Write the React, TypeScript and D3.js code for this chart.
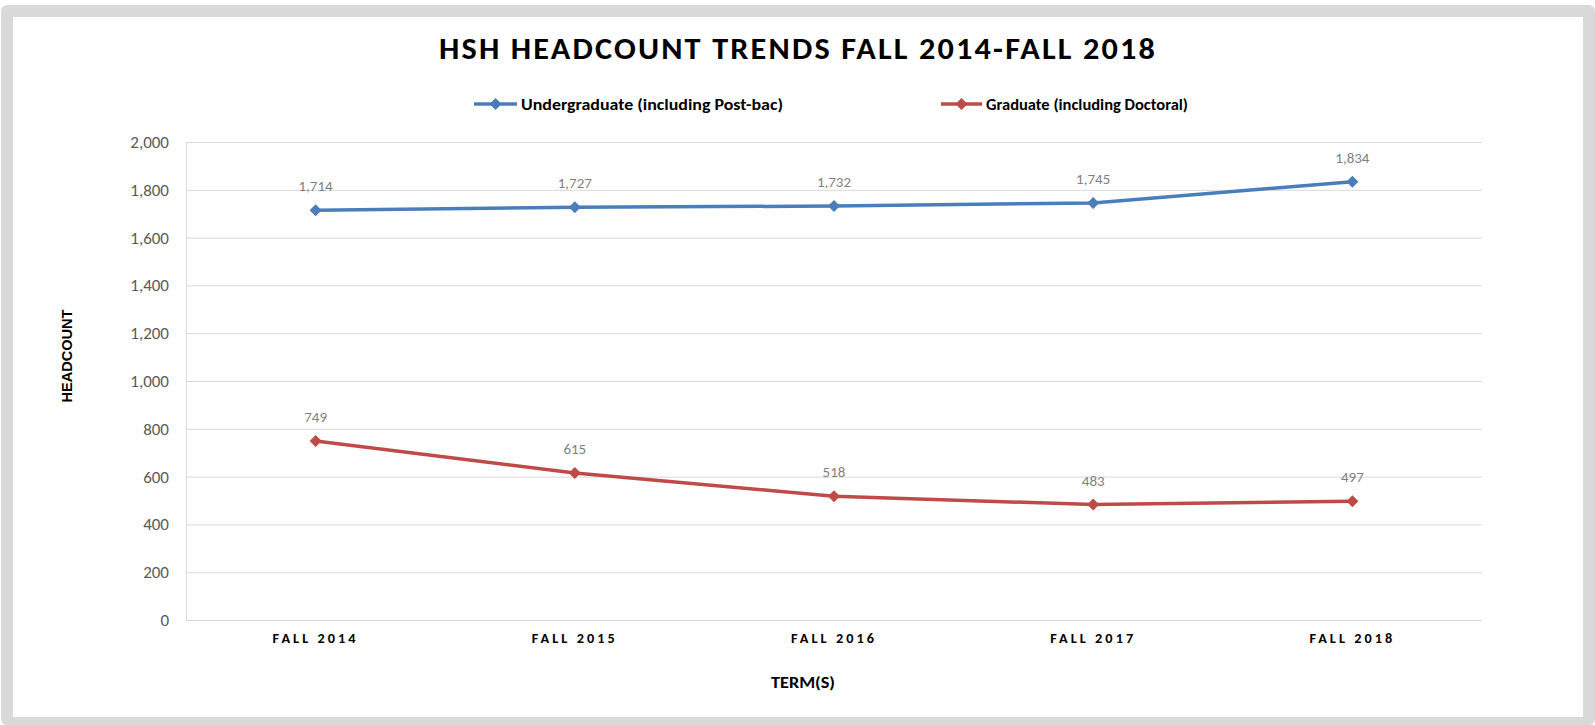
import React, { useEffect, useRef } from "react";
import * as d3 from "d3";

// chart values
const categories = ["FALL 2014", "FALL 2015", "FALL 2016", "FALL 2017", "FALL 2018"];
const undergrad = [1714, 1727, 1732, 1745, 1834];
const graduate = [749, 615, 518, 483, 497];
const yTicks = [0, 200, 400, 600, 800, 1000, 1200, 1400, 1600, 1800, 2000];
const seriesNames = ["Undergraduate (including Post-bac)", "Graduate (including Doctoral)"];

const width = 1595;
const height = 725;
const plot = { left: 186, right: 1482, top: 142, bottom: 620 };
const font = "Carlito, Calibri, Lato, 'Open Sans', sans-serif";
const colors = ["#4a7ebb", "#be4b48"];

const App = () => {
  const ref = useRef<SVGSVGElement>(null);

  useEffect(() => {
    const svg = d3.select(ref.current);
    svg.selectAll("*").remove();

    // frame
    svg.append("rect").attr("x", 1).attr("y", 5).attr("width", 1594).attr("height", 720)
      .attr("rx", 6).attr("fill", "#d9d9d9");
    svg.append("rect").attr("x", 13).attr("y", 17).attr("width", 1570).attr("height", 700)
      .attr("fill", "#ffffff");

    const x = d3.scaleBand().domain(categories).range([plot.left, plot.right]).padding(0);
    const y = d3.scaleLinear().domain([0, 2000]).range([plot.bottom, plot.top]);
    const cx = (c: string) => (x(c) as number) + x.bandwidth() / 2;

    // gridlines
    svg.append("g").selectAll("line").data(yTicks).join("line")
      .attr("x1", plot.left).attr("x2", plot.right)
      .attr("y1", (d) => y(d) + 0.5).attr("y2", (d) => y(d) + 0.5)
      .attr("stroke", "#d9d9d9").attr("stroke-width", 1);
    svg.append("line").attr("x1", plot.left + 0.5).attr("x2", plot.left + 0.5)
      .attr("y1", plot.top).attr("y2", plot.bottom + 0.5)
      .attr("stroke", "#d9d9d9");

    // y axis
    const yAxis = d3.axisLeft(y).tickValues(yTicks).tickSize(0).tickPadding(17)
      .tickFormat((d) => d3.format(",")(d as number));
    const yg = svg.append("g").attr("transform", `translate(${plot.left},0)`).call(yAxis);
    yg.select(".domain").remove();
    yg.selectAll("text").attr("font-family", font).attr("font-size", 17).attr("fill", "#595959");

    // x axis
    const xAxis = d3.axisBottom(x).tickSize(0).tickPadding(13);
    const xg = svg.append("g").attr("transform", `translate(0,${plot.bottom})`).call(xAxis);
    xg.select(".domain").remove();
    xg.selectAll("text").attr("font-family", font).attr("font-size", 14).attr("font-weight", 700)
      .attr("fill", "#000").attr("letter-spacing", 3)
      .attr("textLength", 86).attr("lengthAdjust", "spacingAndGlyphs");

    // title
    svg.append("text").attr("x", 798).attr("y", 59).attr("text-anchor", "middle")
      .attr("font-family", font).attr("font-size", 30).attr("font-weight", 700)
      .attr("letter-spacing", 2).attr("textLength", 718).attr("lengthAdjust", "spacingAndGlyphs")
      .text("HSH HEADCOUNT TRENDS FALL 2014-FALL 2018");

    // axis titles
    svg.append("text").attr("x", 803).attr("y", 688).attr("text-anchor", "middle")
      .attr("font-family", font).attr("font-size", 16).attr("font-weight", 700)
      .attr("textLength", 64).attr("lengthAdjust", "spacingAndGlyphs").text("TERM(S)");
    svg.append("text").attr("transform", "translate(72,356) rotate(-90)").attr("text-anchor", "middle")
      .attr("font-family", "'Liberation Sans', Arial, sans-serif").attr("font-size", 15).attr("font-weight", 700)
      .attr("textLength", 93).attr("lengthAdjust", "spacingAndGlyphs").text("HEADCOUNT");

    const diamond = d3.symbol().type(d3.symbolSquare).size(72);

    // series
    [undergrad, graduate].forEach((vals, i) => {
      const pts = vals.map((v, j) => [cx(categories[j]), y(v)] as [number, number]);
      svg.append("path").attr("d", d3.line()(pts)).attr("fill", "none")
        .attr("stroke", colors[i]).attr("stroke-width", 3.5).attr("stroke-linejoin", "round");
      svg.append("g").selectAll("path").data(pts).join("path")
        .attr("d", diamond()).attr("fill", colors[i])
        .attr("transform", (p) => `translate(${p[0]},${p[1]}) rotate(45)`);
      svg.append("g").selectAll("text").data(vals).join("text")
        .attr("x", (_, j) => cx(categories[j])).attr("y", (v) => y(v) - 19)
        .attr("text-anchor", "middle").attr("font-family", font).attr("font-size", 15)
        .attr("fill", "#7f7f7f").text((v) => d3.format(",")(v));
    });

    // legend
    const legend = [
      { x0: 474, x1: 517, tx: 521, tw: 262 },
      { x0: 941, x1: 982, tx: 986, tw: 202 },
    ];
    legend.forEach((l, i) => {
      svg.append("line").attr("x1", l.x0).attr("x2", l.x1).attr("y1", 104).attr("y2", 104)
        .attr("stroke", colors[i]).attr("stroke-width", 3.5);
      svg.append("path").attr("d", diamond()).attr("fill", colors[i])
        .attr("transform", `translate(${(l.x0 + l.x1) / 2},104) rotate(45)`);
      svg.append("text").attr("x", l.tx).attr("y", 110).attr("font-family", font)
        .attr("font-size", 16).attr("font-weight", 700).attr("fill", "#000")
        .attr("textLength", l.tw).attr("lengthAdjust", "spacingAndGlyphs").text(seriesNames[i]);
    });
  }, []);

  return (
    <svg ref={ref} width={width} height={height}
      style={{ position: "absolute", left: 0, top: 0, display: "block" }} />
  );
};

export default App;
